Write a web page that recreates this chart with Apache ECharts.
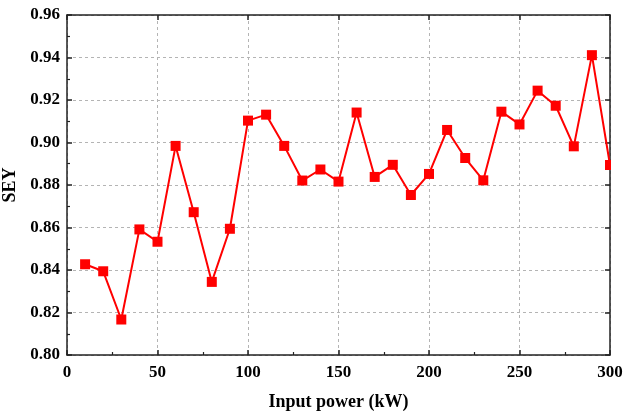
<!DOCTYPE html>
<html>
<head>
<meta charset="utf-8">
<script src="https://cdn.jsdelivr.net/npm/echarts@6/dist/echarts.min.js"></script>
<style>
  html, body { margin: 0; padding: 0; background: #fff; }
  #chart { width: 624px; height: 416px; }
</style>
</head>
<body>
<div id="chart"></div>
<script>
// Input power steps (kW)
const powerKW = [10, 20, 30, 40, 50, 60, 70, 80, 90, 100,
                 110, 120, 130, 140, 150, 160, 170, 180, 190, 200,
                 210, 220, 230, 240, 250, 260, 270, 280, 290, 300];
// Secondary electron yield measured at each power step
const seyValues = [0.8427, 0.8394, 0.8167, 0.8591, 0.8533, 0.8984, 0.8672, 0.8344, 0.8594, 0.9103,
                   0.9131, 0.8984, 0.8821, 0.8873, 0.8816, 0.9141, 0.8838, 0.8895, 0.8753, 0.8852,
                   0.9059, 0.8927, 0.8822, 0.9145, 0.9085, 0.9244, 0.9173, 0.8982, 0.9411, 0.8894];

const xRange = { min: 0, max: 300, step: 50 };
const yRange = { min: 0.80, max: 0.96, step: 0.02 };
const xTitle = 'Input power (kW)';
const yTitle = 'SEY';

const labelFont = { fontFamily: 'Liberation Serif', fontWeight: 'bold', fontSize: 17, color: '#000' };
const axisLineStyle = { show: true, onZero: false, lineStyle: { color: '#222', width: 1.5 } };
const gridLineStyle = { show: true, lineStyle: { color: '#b4b4b4', width: 1, type: [3, 3] } };
const majorTick = { show: true, inside: true, length: 5, lineStyle: { color: '#222', width: 1.5 } };
const minorTick = { show: true, splitNumber: 2, length: 3, lineStyle: { color: '#222', width: 1.2 } };

const chart = echarts.init(document.getElementById('chart'), null, { renderer: 'canvas' });

chart.setOption({
  animation: false,
  backgroundColor: '#fff',
  grid: { left: 67, right: 14, top: 15, bottom: 61, containLabel: false, outerBoundsMode: 'none' },
  xAxis: [
    {
      type: 'value', position: 'bottom',
      min: xRange.min, max: xRange.max, interval: xRange.step,
      name: xTitle, nameLocation: 'middle', nameGap: 38,
      nameTextStyle: Object.assign({}, labelFont, { fontSize: 18 }),
      axisLine: axisLineStyle,
      axisTick: majorTick,
      minorTick: minorTick,
      axisLabel: Object.assign({ margin: 9 }, labelFont),
      splitLine: gridLineStyle
    },
    {
      type: 'value', position: 'top',
      min: xRange.min, max: xRange.max, interval: xRange.step,
      axisLine: axisLineStyle,
      axisTick: majorTick,
      axisLabel: { show: false },
      splitLine: { show: false }
    }
  ],
  yAxis: [
    {
      type: 'value', position: 'left',
      min: yRange.min, max: yRange.max, interval: yRange.step,
      name: yTitle, nameLocation: 'middle', nameGap: 46, nameRotate: 90,
      nameTextStyle: Object.assign({}, labelFont, { fontSize: 18 }),
      axisLine: axisLineStyle,
      axisTick: majorTick,
      minorTick: minorTick,
      axisLabel: Object.assign({ margin: 7, formatter: v => v.toFixed(2) }, labelFont),
      splitLine: gridLineStyle
    },
    {
      type: 'value', position: 'right',
      min: yRange.min, max: yRange.max, interval: yRange.step,
      axisLine: axisLineStyle,
      axisTick: majorTick,
      axisLabel: { show: false },
      splitLine: { show: false }
    }
  ],
  graphic: [
    {
      // keeps the marker sitting on the right frame cut at the frame
      type: 'rect', z: 100, silent: true,
      shape: { x: 611, y: 0, width: 13, height: 358 },
      style: { fill: '#fff' }
    }
  ],
  series: [
    {
      type: 'line',
      xAxisIndex: 0, yAxisIndex: 0,
      data: powerKW.map((p, i) => [p, seyValues[i]]),
      symbol: 'rect', symbolSize: 10,
      itemStyle: { color: '#ff0000' },
      lineStyle: { color: '#ff0000', width: 2 },
      z: 3
    }
  ]
});
</script>
</body>
</html>
